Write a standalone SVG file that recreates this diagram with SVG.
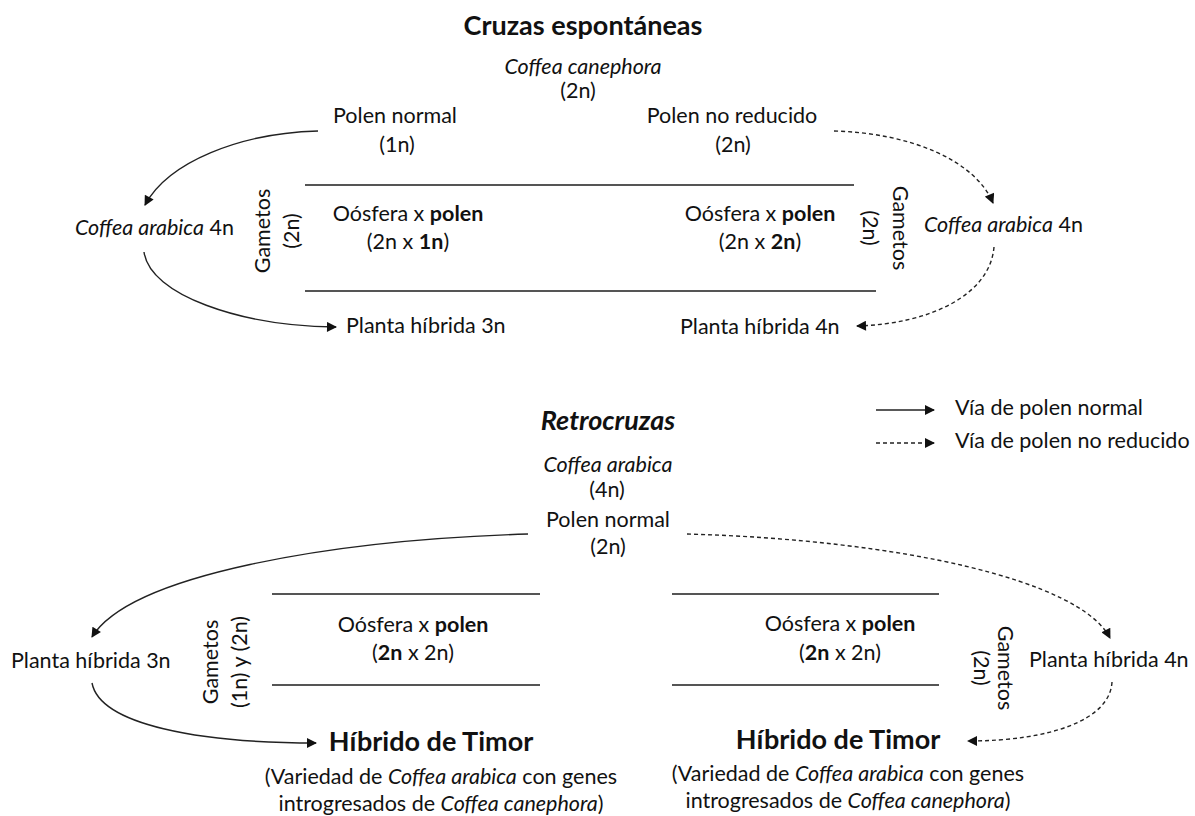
<svg xmlns="http://www.w3.org/2000/svg" width="1195" height="816" viewBox="0 0 1195 816">
<style>
text{font-family:Lato,"Liberation Sans",sans-serif;font-size:21.5px;fill:#111}
.c{text-anchor:middle}
.i{font-style:italic}
.b{font-weight:bold}
.t{font-size:27px;font-weight:bold}
.h{font-size:27px;font-weight:bold}
.ln{stroke:#555;stroke-width:1.8;fill:none}
.s{stroke:#222;stroke-width:1.4;fill:none}
.d{stroke:#222;stroke-width:1.4;fill:none;stroke-dasharray:4 3}
</style>
<defs>
<marker id="ah" viewBox="0 0 10 10" refX="9" refY="5" markerWidth="11" markerHeight="10" markerUnits="userSpaceOnUse" orient="auto"><path d="M0,0 L10,5 L0,10 Z" fill="#111"/></marker>
</defs>
<rect width="1195" height="816" fill="#fff"/>

<g id="top">
<text class="c t" x="583" y="35">Cruzas espontáneas</text>
<text class="c i" x="583" y="74">Coffea canephora</text>
<text class="c" x="578" y="98">(2n)</text>
</g>
<g id="polen-normal-1">
<text class="c" x="395" y="123">Polen normal</text>
<text class="c" x="397" y="152">(1n)</text>
</g>
<g id="polen-noreducido-1">
<text class="c" x="732" y="123">Polen no reducido</text>
<text class="c" x="733" y="152">(2n)</text>
</g>
<g id="cruce-1">
<line class="ln" x1="305" y1="185" x2="854" y2="185"/>
<line class="ln" x1="305" y1="291" x2="876" y2="291"/>
<text class="c" x="408" y="221">Oósfera x <tspan class="b">polen</tspan></text>
<text class="c" x="408" y="249">(2n x <tspan class="b">1n</tspan>)</text>
<text class="c" x="760" y="221">Oósfera x <tspan class="b">polen</tspan></text>
<text class="c" x="760" y="249">(2n x <tspan class="b">2n</tspan>)</text>
<text class="c" transform="translate(270,231) rotate(-90)">Gametos</text>
<text class="c" transform="translate(299,231) rotate(-90)">(2n)</text>
<text class="c" transform="translate(893,228) rotate(90)">Gametos</text>
<text class="c" transform="translate(863,228) rotate(90)">(2n)</text>
</g>
<g id="arabica-izq">
<text x="75" y="235"><tspan class="i">Coffea arabica</tspan> 4n</text>
</g>
<g id="arabica-der">
<text x="924" y="232"><tspan class="i">Coffea arabica</tspan> 4n</text>
</g>
<g id="hibrida-3n-1">
<text x="346" y="333">Planta híbrida 3n</text>
</g>
<g id="hibrida-4n-1">
<text x="680" y="334">Planta híbrida 4n</text>
</g>

<g id="leyenda">
<text x="955" y="415">Vía de polen normal</text>
<text x="955" y="448">Vía de polen no reducido</text>
</g>

<g id="retro">
<text class="c t i" x="608" y="430">Retrocruzas</text>
<text class="c i" x="608" y="472">Coffea arabica</text>
<text class="c" x="607" y="497">(4n)</text>
<text class="c" x="608" y="527">Polen normal</text>
<text class="c" x="608" y="554">(2n)</text>
</g>
<g id="cruce-2">
<line class="ln" x1="272" y1="594" x2="540" y2="594"/>
<line class="ln" x1="272" y1="685" x2="540" y2="685"/>
<line class="ln" x1="672" y1="594" x2="939" y2="594"/>
<line class="ln" x1="672" y1="685" x2="939" y2="685"/>
<text class="c" x="413" y="632">Oósfera x <tspan class="b">polen</tspan></text>
<text class="c" x="413" y="660">(<tspan class="b">2n</tspan> x 2n)</text>
<text class="c" x="840" y="631">Oósfera x <tspan class="b">polen</tspan></text>
<text class="c" x="840" y="660">(<tspan class="b">2n</tspan> x 2n)</text>
<text class="c" transform="translate(218,662) rotate(-90)">Gametos</text>
<text class="c" transform="translate(247,662) rotate(-90)">(1n) y (2n)</text>
<text class="c" transform="translate(998,668) rotate(90)">Gametos</text>
<text class="c" transform="translate(974,668) rotate(90)">(2n)</text>
</g>
<g id="hibrida-3n-2">
<text x="11" y="668">Planta híbrida 3n</text>
</g>
<g id="hibrida-4n-2">
<text x="1029" y="667">Planta híbrida 4n</text>
</g>
<g id="timor-izq">
<text class="c h" x="431" y="751">Híbrido de Timor</text>
<text class="c" x="441" y="784">(Variedad de <tspan class="i">Coffea arabica</tspan> con genes</text>
<text class="c" x="441" y="811">introgresados de <tspan class="i">Coffea canephora</tspan>)</text>
</g>
<g id="timor-der">
<text class="c h" x="838" y="749">Híbrido de Timor</text>
<text class="c" x="848" y="781">(Variedad de <tspan class="i">Coffea arabica</tspan> con genes</text>
<text class="c" x="848" y="808">introgresados de <tspan class="i">Coffea canephora</tspan>)</text>
</g>

<g id="conectores">
<path class="s" d="M318,131 C240,133 168,162 145,205" marker-end="url(#ah)"/>
<path class="s" d="M144,252 C150,295 240,326 336,327" marker-end="url(#ah)"/>
<path class="d" d="M834,131 C910,133 975,160 993,203" marker-end="url(#ah)"/>
<path class="d" d="M994,247 C990,295 930,324 857,326" marker-end="url(#ah)"/>
<path class="s" d="M528,534 C330,540 130,575 92,637" marker-end="url(#ah)"/>
<path class="s" d="M92,683 C100,725 200,743 316,743" marker-end="url(#ah)"/>
<path class="d" d="M687,534 C900,540 1080,580 1110,638" marker-end="url(#ah)"/>
<path class="d" d="M1112,682 C1110,720 1050,741 968,741" marker-end="url(#ah)"/>
<path class="s" d="M876,410 L934,410" marker-end="url(#ah)"/>
<path class="d" d="M876,443 L934,443" marker-end="url(#ah)"/>
</g>
</svg>
